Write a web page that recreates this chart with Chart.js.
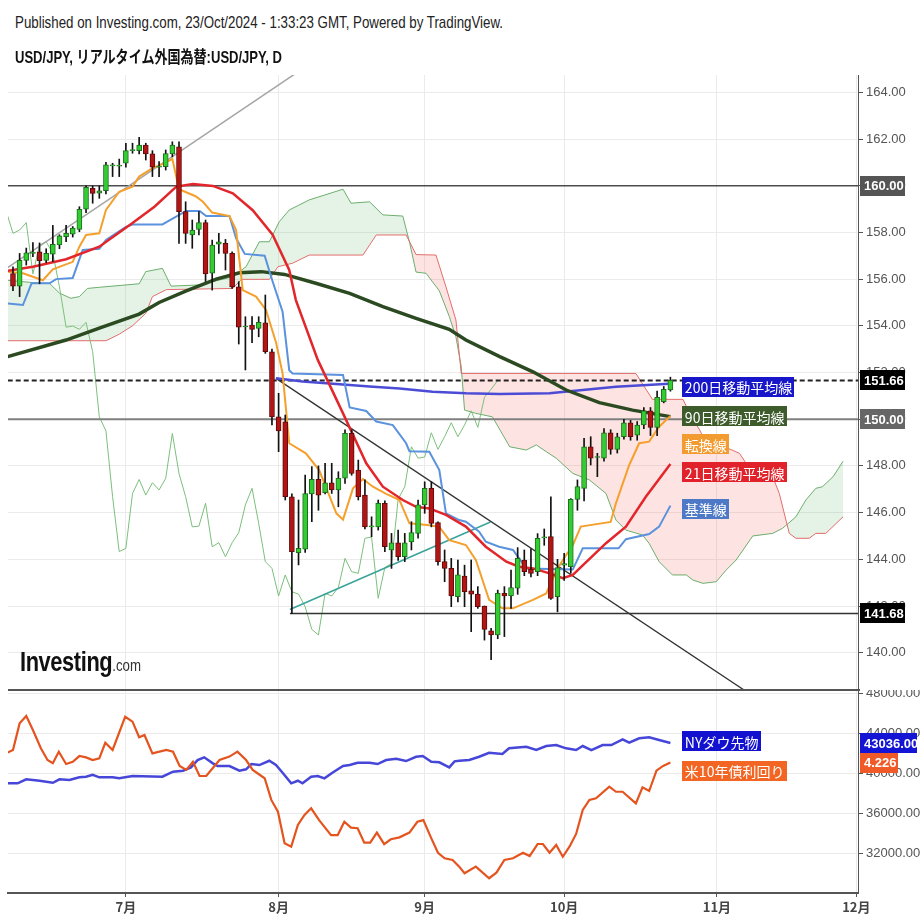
<!DOCTYPE html>
<html lang="ja">
<head>
<meta charset="UTF-8">
<title>USD/JPY 日足</title>
<script src="https://cdn.jsdelivr.net/npm/chart.js@4.4.1/dist/chart.umd.min.js"></script>
<style>
  html, body { margin: 0; padding: 0; background: #fff; }
  #wrap { position: relative; width: 924px; height: 924px; overflow: hidden; background: #fff; }
  canvas { position: absolute; left: 0; }
  #main { top: 63px; }
  #sub { top: 678px; }
  .txt { position: absolute; white-space: nowrap; transform-origin: 0 0; line-height: 1; }
</style>
</head>
<body>
<div id="wrap">
  <canvas id="main" width="924" height="639"></canvas>
  <canvas id="sub" width="924" height="246"></canvas>
  <div class="txt" data-w="488" style="left:15px;top:13px;font:17px 'Liberation Sans',Arial,sans-serif;color:#222">Published on Investing.com, 23/Oct/2024 - 1:33:23 GMT, Powered by TradingView.</div>
  <div class="txt" data-w="267" style="left:15px;top:43px;font:bold 17px 'Liberation Sans','Noto Sans CJK JP',sans-serif;color:#111">USD/JPY, リアルタイム外国為替:USD/JPY, D</div>
  <div class="txt" data-w="121" style="left:20px;top:646px;font:bold 28px 'Liberation Sans',Arial,sans-serif;color:#111;letter-spacing:-0.5px">Investing<span style="font:17px 'Liberation Sans',Arial,sans-serif;color:#333;letter-spacing:0">.com</span></div>
</div>

<script>
// 横軸 (営業日インデックス: 0 = 6/6)
const monthTicks = [17, 40, 62, 83, 106, 127];
const monthLabels = ['7月', '8月', '9月', '10月', '11月', '12月'];
const priceTicks = [140, 142, 144, 146, 148, 150, 152, 154, 156, 158, 160, 162, 164];
const dowTicks = [32000, 36000, 40000, 44000, 48000];

// ローソク足 (6/6 - 10/23)
const openP = [156.24,155.70,156.80,157.10,157.17,156.80,157.07,157.46,157.82,157.92,
  158.13,158.99,159.89,159.68,159.79,160.85,160.84,160.96,161.50,161.50,
  161.74,161.36,160.79,160.81,161.36,161.67,158.89,157.89,158.13,158.42,
  156.25,157.50,157.53,157.10,155.67,153.95,154.03,153.89,154.13,152.89,
  150.10,149.89,146.68,144.28,144.43,146.80,147.42,146.85,147.28,146.97,
  147.47,149.39,147.82,146.75,145.39,145.39,146.40,144.40,144.71,144.11,
  144.75,145.11,146.33,147.04,145.57,143.90,143.61,142.40,143.28,142.65,
  142.51,142.00,140.94,140.76,142.54,142.43,142.76,143.97,143.57,143.47,
  144.92,144.97,142.40,143.75,143.68,146.57,147.04,148.82,148.36,148.33,
  149.42,148.71,149.25,149.85,149.32,149.75,150.36,149.65,150.75,151.25];
const highP = [156.53,157.10,157.33,157.56,157.55,157.30,158.30,157.90,158.30,158.25,
  159.10,159.99,159.99,159.99,161.00,160.96,161.14,161.82,161.82,162.07,
  161.82,161.50,161.03,161.53,161.88,161.88,159.31,158.53,158.89,158.53,
  157.67,157.96,157.70,157.17,155.89,154.39,154.39,154.39,155.32,153.00,
  151.11,150.18,146.80,146.54,147.61,147.97,148.00,148.11,148.11,147.75,
  149.54,149.54,148.25,147.40,145.82,146.54,146.50,145.11,145.25,145.11,
  145.61,146.54,147.32,147.32,145.60,144.40,144.04,143.97,143.75,143.97,
  142.83,142.00,141.04,142.68,142.83,143.54,144.50,144.40,144.45,145.10,
  145.30,146.68,144.00,144.26,146.60,147.40,149.18,149.25,148.54,149.60,
  149.55,149.40,150.00,149.95,149.90,150.50,150.50,151.20,151.40,151.80];
const lowP = [155.50,155.25,156.60,156.96,155.80,156.70,156.75,157.30,157.60,157.80,
  158.03,158.84,159.25,159.46,159.65,160.39,160.39,160.79,161.39,161.36,
  161.10,160.39,160.39,160.67,161.24,157.53,157.53,157.32,157.89,155.90,
  155.53,157.10,156.39,155.60,153.22,152.11,153.28,153.53,152.82,149.75,
  148.61,146.54,141.68,143.76,144.30,145.61,146.10,146.80,146.82,146.25,
  147.25,147.60,146.54,145.30,144.97,145.25,144.33,143.61,143.95,143.90,
  144.40,144.90,145.97,145.39,143.75,143.04,141.97,142.18,141.97,140.90,
  141.90,140.54,139.70,140.60,140.69,141.90,142.50,143.30,143.25,143.30,
  144.60,142.28,141.75,143.10,143.40,146.10,146.50,148.04,147.54,148.20,
  148.50,148.55,149.15,149.10,149.10,149.60,149.30,149.30,150.70,151.20];
const closeP = [155.70,156.80,157.12,157.15,156.79,157.10,157.49,157.85,157.96,158.18,
  158.99,159.93,159.67,159.78,160.89,160.87,160.88,161.50,161.53,161.74,
  161.36,160.79,160.80,161.38,161.74,158.89,157.96,158.10,158.42,156.22,
  157.46,157.60,157.10,155.67,153.94,153.99,153.85,154.15,152.89,150.10,
  149.50,146.68,144.33,144.47,146.82,147.42,146.75,147.28,146.97,147.47,
  149.39,147.68,146.68,145.39,145.42,146.40,144.54,144.71,144.11,144.71,
  145.14,146.33,147.04,145.54,143.90,143.61,142.43,143.33,142.61,142.51,
  141.97,141.00,140.76,142.54,142.43,142.79,144.04,143.47,143.40,144.90,
  144.95,142.33,143.65,143.82,146.57,147.11,148.82,148.33,148.38,149.42,
  148.71,149.25,149.85,149.25,149.75,150.36,149.65,150.94,151.28,151.66];

// 移動平均線・一目均衡表 ([インデックス, 値])
const ma21 = [[-0.8,156.36],[3,156.53],[8,156.85],[13,157.39],[18,158.4],[21.3,159.1],[24.6,159.96],
  [27.1,160.07],[30.1,159.99],[33.1,159.67],[36.1,158.95],[39.1,157.9],[41.6,156.39],[42.6,155.1],
  [45.9,152.54],[49.7,150.25],[53.2,148.11],[55.7,147.11],[58.7,146.54],[60.7,146.25],[62.7,146.18],
  [65.2,145.9],[68.2,145.4],[71.2,144.54],[74.3,143.9],[76.2,143.68],[78.3,143.61],[80.8,143.4],
  [82.8,143.19],[84.3,143.33],[89.3,144.69],[92.3,145.4],[95.3,146.68],[99,148.08]];
const ma90 = [[-0.8,152.68],[8,153.39],[13,153.9],[19,154.5],[22,155.0],[26.1,155.5],[30.6,156.0],
  [34.1,156.27],[37.4,156.32],[40.9,156.2],[45.6,155.82],[50.7,155.39],[55.7,154.82],[60.7,154.32],
  [65.7,153.85],[68.2,153.39],[73.3,152.68],[78.3,152.03],[83.3,151.25],[88.3,150.71],[93.3,150.39],[99,150.11]];
const ma200 = [[39.6,151.75],[43.6,151.61],[48.7,151.51],[53.7,151.4],[58.2,151.32],[63.2,151.18],
  [68.2,151.11],[73.3,151.08],[80.8,151.11],[85.8,151.25],[90.8,151.39],[98.8,151.52]];
const tenkan = [[-0.8,156.32],[1.5,156.25],[4.5,155.95],[6,156.42],[9,156.74],[10,157.39],[11,157.89],
  [13,157.96],[14,158.96],[16,159.74],[18,159.96],[19,160.39],[21,160.75],[23,160.99],[24,161.15],
  [25,159.85],[27.5,159.55],[28.6,159.31],[30,158.85],[32.6,158.7],[33.6,158.1],[34.6,155.53],
  [36.6,155.25],[38.1,154.68],[39.6,153.3],[40.6,151.96],[41.6,148.97],[44.1,148.54],[46.1,147.82],
  [47.1,147.11],[48.7,145.97],[49.7,145.7],[51.2,147.04],[52.7,147.44],[54.2,147.11],[56.2,146.8],
  [58.2,146.54],[59.7,145.54],[62.4,145.47],[64.2,145.39],[65.7,144.82],[68.2,144.61],[69.7,143.97],
  [71.7,142.26],[73.7,141.9],[75.3,141.9],[78.3,142.26],[80.3,142.54],[81.8,143.5],[82.8,143.97],
  [84.3,144.6],[85.5,145.4],[90,145.6],[90.8,146.4],[92.8,148.04],[94.3,148.97],[95.8,149.04],
  [97.3,149.68],[99,150.14]];
const kijun = [[-0.8,154.96],[1.5,154.89],[2.8,155.82],[5.5,155.82],[6.5,156.0],[9,156.05],[10.5,157.25],
  [13,157.3],[14,157.67],[17,158.24],[18,158.34],[22.5,158.34],[24.1,158.6],[26.1,158.92],[28.1,158.92],
  [29.1,158.7],[32.6,158.7],[33.6,157.75],[34.9,157.08],[37.9,157.0],[39.1,155.9],[40.6,154.6],
  [41.6,152.1],[42.1,151.96],[49.7,151.89],[50.7,150.5],[53.2,150.35],[54.7,149.9],[57.2,149.75],
  [59.2,148.97],[59.7,148.63],[62.7,148.61],[64.2,147.82],[65.2,145.97],[67.2,145.68],[68.2,145.61],
  [70.2,145.18],[71.2,144.75],[73.2,144.54],[75.3,144.4],[77.3,143.61],[84.3,143.56],[85.8,144.47],
  [91.2,144.47],[92.3,144.86],[95.8,145.08],[97.3,145.4],[99,146.3]];
const senkouA = [[-0.8,155.95],[3,155.85],[5.5,155.82],[7,155.4],[8.7,155.18],[10,155.25],[11.2,155.6],
  [13,155.65],[19,155.8],[20,156.32],[22.5,156.46],[23.8,155.7],[28,155.75],[33.1,156.1],[35.1,156.53],
  [37.1,157.6],[38.6,157.6],[40.1,158.46],[41.6,158.96],[44.6,159.39],[49.7,159.85],[50.9,159.25],
  [53.7,159.31],[55.7,158.75],[58.7,158.7],[59.7,157.6],[60.7,156.3],[62.2,156.25],[64.2,155.5],
  [65.7,154.4],[66.7,153.53],[67.5,152.25],[68,150.39],[69.7,150.25],[72.2,150.1],[74.8,148.82],
  [77.3,148.68],[78.8,148.9],[80.3,148.61],[81.8,148.33],[84.3,147.68],[86.8,147.4],[89.3,146.82],
  [90.8,145.68],[92.3,145.25],[94.8,145.04],[95.8,144.68],[97.3,143.9],[99.3,143.33],[101.4,143.33],
  [102.4,143.11],[103.9,142.97],[105.9,143.04],[107.4,143.54],[108.9,143.97],[111.4,145.0],[114.4,145.11],
  [115.9,145.33],[117.9,145.82],[119.4,146.54],[120.9,147.04],[121.9,147.11],[123.5,147.54],[125,148.2]];
const senkouB = [[-0.8,153.36],[14,153.36],[16,153.64],[18,154.0],[20,154.53],[21,155.25],[23.1,155.55],
  [33.1,155.6],[34.4,155.99],[38.6,155.99],[39.9,156.53],[42.1,156.68],[44.6,157.03],[52.7,157.03],
  [54.7,157.89],[59.2,157.89],[60.7,157.05],[63.7,157.03],[65.2,155.67],[66.7,154.25],[67.5,151.96],
  [93.8,151.96],[96.3,150.85],[100.9,150.85],[101.9,150.25],[103.4,149.54],[104.4,148.97],[106.9,148.85],
  [109.4,148.54],[110.4,148.11],[114.4,147.54],[115.4,146.82],[116.9,145.11],[117.9,144.9],[119.9,144.9],
  [120.9,145.11],[122.4,145.11],[125,145.82]];

// 水平線とトレンドライン
const hLevels = [160, 151.66, 150, 141.68];
const levelFrom = [-2, -2, -2, 41.7];
const grayTrend = [[-0.8,156.49],[43,164.89]];
const downTrend = [[39.6,151.75],[112,138.04]];
const upTrend = [[41.7,141.85],[71.9,145.6]];

// 下段: NYダウ先物 と 米10年債利回り
const dowFut = [[-0.8,39000],[0.7,39000],[2,39400],[4,39260],[6,39060],[7,39400],[8.5,39330],[10,39600],
  [11,39660],[12,39860],[13,39600],[15,39600],[16,39500],[18,39730],[22.5,39660],[24.1,40160],[25.6,40260],
  [26.8,40600],[27.8,41330],[28.8,41600],[30.1,41000],[30.8,40730],[32.6,40730],[34.1,40260],[35.1,40400],
  [35.9,40930],[37.1,40830],[38.6,41260],[39.6,40830],[40.6,40060],[41.9,39000],[42.9,39260],[43.6,39000],
  [44.9,39660],[45.9,39730],[46.9,39500],[48.1,40060],[49.7,40730],[50.7,40830],[51.9,41060],[53.7,41060],
  [54.9,40930],[56.2,41330],[57.7,41460],[59.2,41230],[60.7,41660],[61.7,41730],[63,41160],[64.2,41100],
  [65.7,40600],[66.5,41200],[67.2,41260],[68.7,41330],[70.2,41660],[71.7,42060],[73.7,41930],[74.7,42500],
  [77.3,42660],[78.8,42330],[80.3,42730],[81.8,42830],[83.3,42500],[84.8,42330],[85.8,42730],[87.1,42330],
  [88.8,42830],[90.1,42830],[91.8,43400],[92.8,43060],[94.3,43500],[95.8,43600],[97.3,43330],[99,43036]];
const us10y = [[-0.8,4.278],[0,4.292],[1,4.432],[2,4.471],[3,4.397],[4.2,4.301],[5.2,4.239],[6,4.222],
  [6.9,4.283],[8,4.218],[9,4.230],[10,4.260],[11,4.253],[12,4.239],[13,4.248],[13.9,4.330],[15,4.292],
  [16.9,4.467],[18,4.441],[19,4.359],[19.8,4.371],[21,4.274],[23.1,4.292],[24.1,4.283],[25.1,4.208],
  [26.1,4.187],[27.1,4.230],[28.1,4.155],[29.1,4.155],[31.1,4.239],[32.6,4.257],[33.8,4.283],[35.1,4.239],
  [36.1,4.187],[37.9,4.143],[38.9,4.029],[39.9,3.967],[40.9,3.801],[41.9,3.783],[42.9,3.897],[43.9,3.950],
  [44.9,3.985],[46.1,3.923],[47.9,3.844],[48.9,3.844],[49.9,3.914],[50.9,3.883],[51.9,3.880],[52.9,3.804],
  [53.8,3.804],[54.8,3.857],[55.9,3.796],[56.9,3.822],[58.2,3.832],[59.7,3.857],[60.9,3.914],[61.8,3.923],
  [63,3.827],[64,3.751],[65,3.722],[66.2,3.713],[67.2,3.678],[68,3.643],[69.7,3.678],[71.7,3.617],
  [72.8,3.646],[74,3.713],[75.3,3.722],[76.8,3.751],[77.8,3.734],[79,3.797],[79.8,3.797],[80.8,3.751],
  [81.8,3.792],[82.8,3.730],[83.8,3.783],[84.8,3.850],[85.8,3.976],[86.8,4.029],[87.8,4.038],[89.8,4.099],
  [90.8,4.072],[91.8,4.072],[93.8,4.011],[94.8,4.095],[95.8,4.076],[96.9,4.183],[97.9,4.208],[99,4.226]];

// ---- 見出しの幅合わせ ----
document.querySelectorAll('.txt').forEach(el => {
  const w = el.getBoundingClientRect().width;
  el.style.transform = 'scaleX(' + (Number(el.dataset.w) / w) + ')';
});

const pts = arr => arr.map(([x, y]) => ({ x, y }));
const xMin = -0.75, xMax = 127.25;
const numFont = { family: "'Liberation Sans', Arial, sans-serif", size: 13 };

function xAxis(showLabels) {
  return {
    type: 'linear', min: xMin, max: xMax, offset: false,
    grid: { color: '#ebebeb', offset: false, drawTicks: showLabels, tickLength: 4, tickColor: '#555' },
    border: { display: showLabels, color: '#555', width: 2 },
    ticks: {
      display: showLabels, autoSkip: false, maxRotation: 0, padding: 2, color: '#444',
      font: { family: "'Noto Sans CJK JP', sans-serif", size: 13, weight: 'bold' },
      callback: (v, i) => monthLabels[i]
    },
    afterBuildTicks: s => { s.ticks = monthTicks.map(v => ({ value: v })); },
    afterFit: s => { s.height = showLabels ? 31 : 0; }
  };
}

function lineDs(label, data, color, width, order, extra) {
  return Object.assign({ type: 'line', label, data, borderColor: color, borderWidth: width,
    pointRadius: 0, fill: false, tension: 0, order }, extra || {});
}

function drawTag(ctx, left, yc, text, bg) {
  ctx.font = '14px "Noto Sans CJK JP", sans-serif';
  const w = ctx.measureText(text).width + 5;
  ctx.fillStyle = bg;
  ctx.fillRect(Math.round(left), Math.round(yc - 10), Math.round(w), 20);
  ctx.fillStyle = '#fff';
  ctx.textAlign = 'left';
  ctx.textBaseline = 'middle';
  ctx.fillText(text, left + 2.5, yc + 1);
}

function drawAxisBox(ctx, left, yc, w, text, bg) {
  ctx.fillStyle = bg;
  ctx.fillRect(left, Math.round(yc - 10), w, 20);
  ctx.font = 'bold 13px "Liberation Sans", Arial, sans-serif';
  ctx.fillStyle = '#fff';
  ctx.textAlign = 'left';
  ctx.textBaseline = 'middle';
  ctx.fillText(text, left + 4, yc + 1);
}

// ---- 上段 (価格) ----
const up = openP.map((o, i) => closeP[i] >= o);
const chikou = closeP.map((c, i) => ({ x: i - 26, y: c })).filter(p => p.x >= -1);
const levelStyles = [
  { color: '#4d4d4d', width: 1.5 },
  { color: '#222', width: 2, dash: [5, 3] },
  { color: '#808080', width: 2 },
  { color: '#333', width: 1.5 }
];

const mainTags = [
  { text: '200日移動平均線', at: 151.39, bg: '#1717c9' },
  { text: '90日移動平均線', at: 150.12, bg: '#3d5b2b' },
  { text: '転換線', at: 148.92, bg: '#f29b30' },
  { text: '21日移動平均線', at: 147.73, bg: '#e2222a' },
  { text: '基準線', at: 146.16, bg: '#4d79c6' }
];
const levelBoxBg = ['#555', '#000', '#666', '#000'];

const mainOverlay = {
  id: 'mainOverlay',
  afterDraw(chart) {
    const { ctx, scales: { x, y }, chartArea } = chart;
    ctx.save();
    mainTags.forEach(t => drawTag(ctx, x.getPixelForValue(100.8), y.getPixelForValue(t.at), t.text, t.bg));
    hLevels.forEach((v, k) => drawAxisBox(ctx, chartArea.right + 2, y.getPixelForValue(v), 45, v.toFixed(2), levelBoxBg[k]));
    ctx.restore();
  }
};

const mainDatasets = [
  { type: 'bar', label: '実体', order: 0, grouped: false, barThickness: 5, minBarLength: 1,
    data: openP.map((o, i) => ({ x: i, y: [o, closeP[i]] })),
    backgroundColor: up.map(u => u ? '#33cc33' : '#b31414'),
    borderColor: up.map(u => u ? '#1d6e1d' : '#5e0b0b'), borderWidth: 1, borderSkipped: false },
  { type: 'bar', label: 'ヒゲ', order: 1, grouped: false, barThickness: 1,
    data: lowP.map((l, i) => ({ x: i, y: [l, highP[i]] })), backgroundColor: '#111' },
  lineDs('21日移動平均線', pts(ma21), '#e3262b', 2.5, 3),
  lineDs('転換線', pts(tenkan), '#f5a02c', 2, 4),
  lineDs('基準線', pts(kijun), '#5b92dd', 2, 5),
  lineDs('90日移動平均線', pts(ma90), '#2c4a22', 3.5, 6),
  lineDs('200日移動平均線', pts(ma200), '#4b4bd6', 2.5, 7),
  lineDs('trendGray', pts(grayTrend), '#a5a5a5', 1.5, 8),
  lineDs('trendDown', pts(downTrend), '#333', 1.3, 8),
  lineDs('trendUp', pts(upTrend), '#3aa39a', 1.5, 8),
  ...hLevels.map((v, k) => lineDs('level' + v, [{ x: levelFrom[k], y: v }, { x: 130, y: v }],
    levelStyles[k].color, levelStyles[k].width, 8, { borderDash: levelStyles[k].dash || [] })),
  lineDs('遅行スパン', chikou, '#7cbf7c', 1, 9),
  lineDs('先行スパン1', pts(senkouA), '#6cae6c', 1, 11,
    { fill: { target: '+1', above: 'rgba(76,175,80,0.15)', below: 'rgba(244,67,54,0.15)' } }),
  lineDs('先行スパン2', pts(senkouB), '#e36d6d', 1, 10)
];

new Chart(document.getElementById('main'), {
  type: 'bar',
  data: { datasets: mainDatasets },
  options: {
    responsive: false, animation: false, devicePixelRatio: 1, events: [],
    layout: { padding: { left: 8, right: 0, top: 12, bottom: 12 } },
    plugins: { legend: { display: false }, tooltip: { enabled: false } },
    scales: {
      x: xAxis(false),
      y: {
        type: 'linear', position: 'right', min: 138.403, max: 164.741,
        grid: { color: '#ebebeb', tickLength: 5, tickColor: '#555' },
        border: { color: '#555', width: 1 },
        ticks: { color: '#555', padding: 3, font: numFont, callback: v => v.toFixed(2) },
        afterBuildTicks: s => { s.ticks = priceTicks.map(v => ({ value: v })); },
        afterFit: s => { s.width = 66; }
      }
    }
  },
  plugins: [mainOverlay]
});

// ---- 下段 ----
const subTags = [
  { text: 'NYダウ先物', axis: 'y', at: 43210, bg: '#1111cf' },
  { text: '米10年債利回り', axis: 'yy', at: 4.183, bg: '#f26522' }
];

const subOverlay = {
  id: 'subOverlay',
  afterDraw(chart) {
    const { ctx, chartArea, scales } = chart;
    ctx.save();
    ctx.clearRect(0, 0, chart.width, chartArea.top);
    ctx.fillStyle = '#555';
    ctx.fillRect(chartArea.left, chartArea.top - 1, chartArea.right - chartArea.left + 2, 2);
    subTags.forEach(t => drawTag(ctx, scales.x.getPixelForValue(100.8), scales[t.axis].getPixelForValue(t.at), t.text, t.bg));
    const lastDow = dowFut[dowFut.length - 1][1];
    const lastYield = us10y[us10y.length - 1][1];
    drawAxisBox(ctx, chartArea.right + 2, scales.y.getPixelForValue(lastDow), 57, lastDow.toFixed(2), '#1414d4');
    drawAxisBox(ctx, chartArea.right + 2, scales.yy.getPixelForValue(lastYield), 38, lastYield.toFixed(3), '#f05a28');
    ctx.restore();
  }
};

new Chart(document.getElementById('sub'), {
  type: 'line',
  data: {
    datasets: [
      lineDs('NYダウ先物', pts(dowFut), '#4646d8', 2.5, 1, { yAxisID: 'y' }),
      lineDs('米10年債利回り', pts(us10y), '#e4541f', 2.2, 0, { yAxisID: 'yy' })
    ]
  },
  options: {
    responsive: false, animation: false, devicePixelRatio: 1, events: [],
    layout: { padding: { left: 8, right: 0, top: 12, bottom: 0 } },
    plugins: { legend: { display: false }, tooltip: { enabled: false } },
    scales: {
      x: xAxis(true),
      y: {
        type: 'linear', position: 'right', min: 28040, max: 48330,
        grid: { color: '#ebebeb', tickLength: 5, tickColor: '#555' },
        border: { color: '#555', width: 1 },
        ticks: { color: '#555', padding: 3, font: numFont, callback: v => v.toFixed(2) },
        afterBuildTicks: s => { s.ticks = dowTicks.map(v => ({ value: v })); },
        afterFit: s => { s.width = 66; }
      },
      yy: { type: 'linear', position: 'right', display: false, min: 3.5392, max: 4.6076 }
    }
  },
  plugins: [subOverlay]
});
</script>
</body>
</html>
